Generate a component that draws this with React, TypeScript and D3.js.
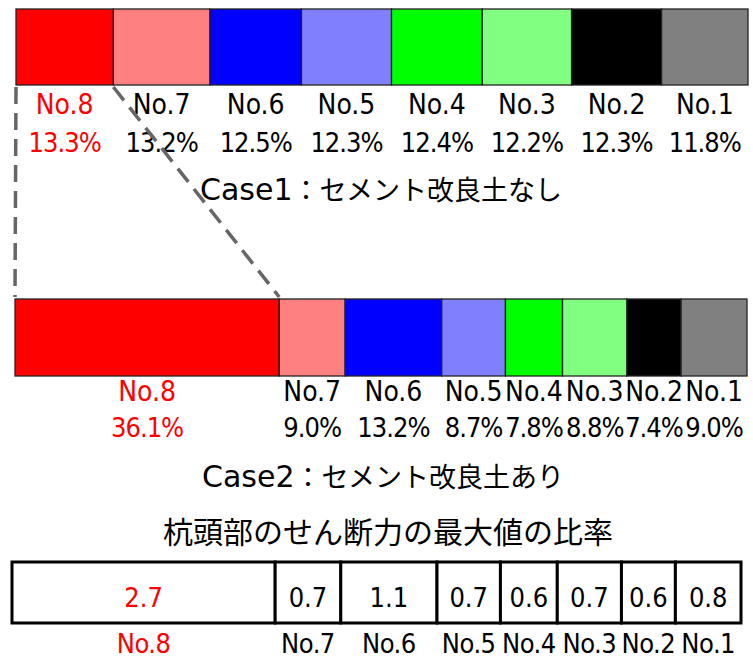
import React, { useRef, useEffect } from "react";
import * as d3 from "d3";

// piles, left to right
const pileNames = ["No.8", "No.7", "No.6", "No.5", "No.4", "No.3", "No.2", "No.1"];
// share of the pile-head shear force (%)
const case1Share = [13.3, 13.2, 12.5, 12.3, 12.4, 12.2, 12.3, 11.8];
const case2Share = [36.1, 9.0, 13.2, 8.7, 7.8, 8.8, 7.4, 9.0];
// ratio of the maximum value (Case2 / Case1)
const ratioLabels = ["2.7", "0.7", "1.1", "0.7", "0.6", "0.7", "0.6", "0.8"];

const case1Title = ["Case1", "：セメント改良土なし"];
const case2Title = ["Case2", "：セメント改良土あり"];
const ratioTitle = "杭頭部のせん断力の最大値の比率";

const pileColors = ["#ff0000", "#ff8080", "#0000ff", "#8080ff", "#00ff00", "#80ff80", "#000000", "#808080"];

const numFont = "'DejaVu Sans Condensed', 'DejaVu Sans', sans-serif";
const latinFont = "'DejaVu Sans', sans-serif";
const jpFont = "'Noto Sans CJK JP', sans-serif";

const segments = (shares: number[]) => {
  const ends = Array.from(d3.cumsum(shares));
  return shares.map((v, i) => ({ name: pileNames[i], value: v, x0: ends[i] - v, x1: ends[i], i }));
};

const App = () => {
  const ref = useRef<SVGSVGElement>(null);
  const width = 753;
  const height = 658;

  useEffect(() => {
    const svg = d3.select(ref.current);
    svg.selectAll("*").remove();
    svg.attr("width", width).attr("height", height);

    const labelColor = (i: number) => (i === 0 ? "#ff0000" : "#000");

    const drawBar = (shares: number[], x: d3.ScaleLinear<number, number>, top: number, bottom: number, nameY: number, pctY: number) => {
      const data = segments(shares);
      const g = svg.append("g");
      g.selectAll("rect")
        .data(data)
        .enter()
        .append("rect")
        .attr("x", (d) => x(d.x0))
        .attr("y", top)
        .attr("width", (d) => x(d.x1) - x(d.x0))
        .attr("height", bottom - top)
        .attr("fill", (d) => pileColors[d.i])
        .attr("stroke", "#222")
        .attr("stroke-width", 1.3);

      g.selectAll(".name")
        .data(data)
        .enter()
        .append("text")
        .text((d) => d.name)
        .attr("x", (d) => x((d.x0 + d.x1) / 2))
        .attr("y", nameY)
        .attr("text-anchor", "middle")
        .attr("fill", (d) => labelColor(d.i))
        .style("font-family", numFont)
        .style("font-stretch", "condensed")
        .style("font-size", "28px");

      g.selectAll(".pct")
        .data(data)
        .enter()
        .append("text")
        .text((d) => `${d.value.toFixed(1)}%`)
        .attr("x", (d) => x((d.x0 + d.x1) / 2))
        .attr("y", pctY)
        .attr("text-anchor", "middle")
        .attr("fill", (d) => labelColor(d.i))
        .style("font-family", numFont)
        .style("font-stretch", "condensed")
        .style("font-size", "27px")
        .style("letter-spacing", "-1px");
      return data;
    };

    const x1 = d3.scaleLinear().domain([0, 100]).range([16, 748]);
    const x2 = d3.scaleLinear().domain([0, 100]).range([15, 747]);
    const c1 = drawBar(case1Share, x1, 9, 85, 114, 152);
    const c2 = drawBar(case2Share, x2, 299, 376, 401, 437);

    const caseTitle = (parts: string[], cx: number, y: number) => {
      const t = svg
        .append("text")
        .attr("x", cx)
        .attr("y", y)
        .attr("text-anchor", "middle")
        .attr("fill", "#000");
      t.append("tspan").text(parts[0]).style("font-family", latinFont).style("font-size", "30px");
      t.append("tspan").text(parts[1]).style("font-family", jpFont).style("font-size", "27px");
    };
    caseTitle(case1Title, 381, 200);
    caseTitle(case2Title, 383, 487);

    svg
      .append("text")
      .text(ratioTitle)
      .attr("x", 388)
      .attr("y", 543)
      .attr("text-anchor", "middle")
      .attr("fill", "#000")
      .style("font-family", jpFont)
      .style("font-size", "30px");

    // ratio table
    const xt = d3.scaleLinear().domain([0, 100]).range([12, 741]);
    const tData = segments(case2Share);
    const tTop = 562;
    const tBottom = 623;
    const tg = svg.append("g");
    tg.selectAll("rect")
      .data(tData)
      .enter()
      .append("rect")
      .attr("x", (d) => xt(d.x0))
      .attr("y", tTop)
      .attr("width", (d) => xt(d.x1) - xt(d.x0))
      .attr("height", tBottom - tTop)
      .attr("fill", "#fff")
      .attr("stroke", "#000")
      .attr("stroke-width", 3);
    tg.selectAll(".val")
      .data(tData)
      .enter()
      .append("text")
      .text((d) => ratioLabels[d.i])
      .attr("x", (d) => xt((d.x0 + d.x1) / 2))
      .attr("y", 607)
      .attr("text-anchor", "middle")
      .attr("fill", (d) => labelColor(d.i))
      .style("font-family", numFont)
      .style("font-stretch", "condensed")
      .style("font-size", "27px");
    tg.selectAll(".nm")
      .data(tData)
      .enter()
      .append("text")
      .text((d) => d.name)
      .attr("x", (d) => xt((d.x0 + d.x1) / 2))
      .attr("y", 653)
      .attr("text-anchor", "middle")
      .attr("fill", (d) => labelColor(d.i))
      .style("font-family", numFont)
      .style("font-stretch", "condensed")
      .style("font-size", "27px")
      .style("letter-spacing", "-0.5px");

    // zoom guide lines from No.8 of Case1 to No.8 of Case2
    const guides = [
      [x1(c1[0].x0), x2(c2[0].x0)],
      [x1(c1[0].x1), x2(c2[0].x1)],
    ];
    svg
      .append("g")
      .selectAll("line")
      .data(guides)
      .enter()
      .append("line")
      .attr("x1", (d) => d[0])
      .attr("y1", 87)
      .attr("x2", (d) => d[1])
      .attr("y2", 297)
      .attr("stroke", "#666")
      .attr("stroke-width", 3.5)
      .attr("stroke-dasharray", "17 9");
  }, []);

  return <svg ref={ref} style={{ position: "absolute", left: 0, top: 0 }}></svg>;
};

export default App;
